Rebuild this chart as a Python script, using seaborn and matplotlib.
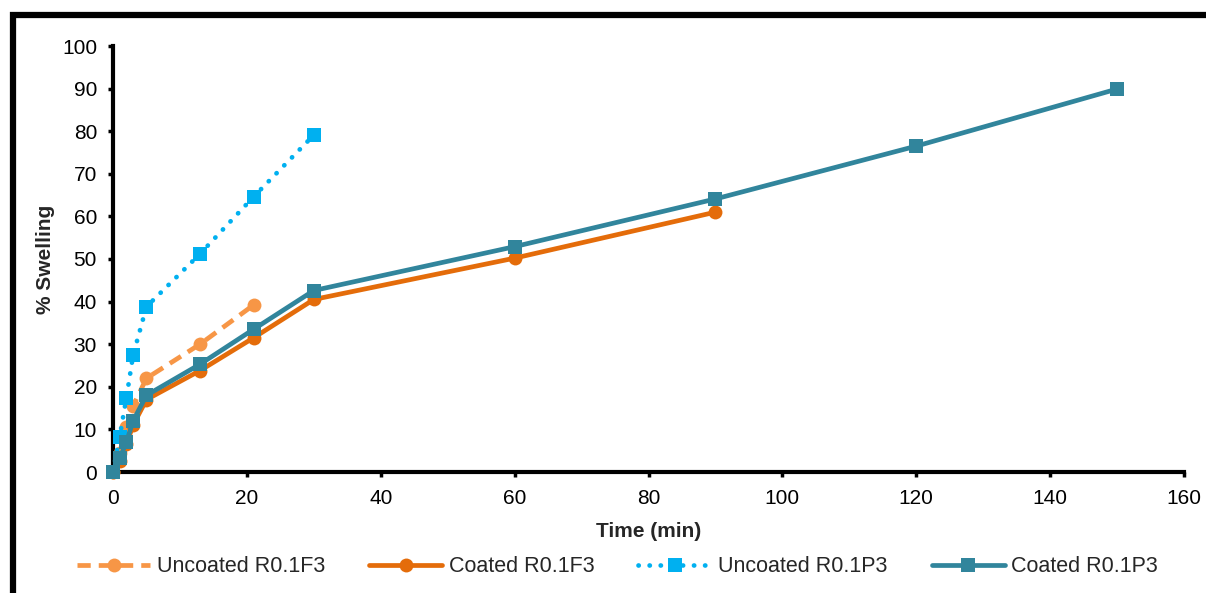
import matplotlib
matplotlib.use("Agg")
import matplotlib.pyplot as plt
from matplotlib.patches import Rectangle
import seaborn as sns
import pandas as pd

# ---- data ----
t_unc_f3 = [0, 1, 2, 3, 5, 13, 21]
unc_f3 = [0, 4.5, 10.5, 15.5, 22, 30, 39.2]

t_coat_f3 = [0, 1, 2, 3, 5, 13, 21, 30, 60, 90]
coat_f3 = [0, 2.5, 6.5, 11, 17, 23.8, 31.5, 40.5, 50.2, 61.0]

t_unc_p3 = [0, 1, 2, 3, 5, 13, 21, 30]
unc_p3 = [0, 8.3, 17.4, 27.4, 38.8, 51.2, 64.6, 79.1]

t_coat_p3 = [0, 1, 2, 3, 5, 13, 21, 30, 60, 90, 120, 150]
coat_p3 = [0, 3.2, 7.0, 12.0, 18.0, 25.3, 33.5, 42.6, 52.9, 64.1, 76.5, 89.9]

labels = ["Uncoated R0.1F3", "Coated R0.1F3", "Uncoated R0.1P3", "Coated R0.1P3"]
xticks = [0, 20, 40, 60, 80, 100, 120, 140, 160]
yticks = [0, 10, 20, 30, 40, 50, 60, 70, 80, 90, 100]

sns.set_theme(style="white")
plt.rcParams["font.family"] = ["Liberation Sans", "DejaVu Sans"]

fig = plt.figure(figsize=(12.06, 5.93), dpi=100)
ax = fig.add_axes([113 / 1206, 1 - 472 / 593, (1184 - 113) / 1206, (472 - 46) / 593])

series = [
    (t_unc_f3, unc_f3, labels[0], "#F79646", "o", (0, (2.8, 1.7)), "butt", 10),
    (t_coat_f3, coat_f3, labels[1], "#E46C0A", "o", "-", "round", 10),
    (t_unc_p3, unc_p3, labels[2], "#00B0F0", "s", (0, (0.05, 2.3)), "round", 10),
    (t_coat_p3, coat_p3, labels[3], "#31859C", "s", "-", "round", 10),
]
for t, v, lab, col, mk, ls, cap, ms in series:
    df = pd.DataFrame({"t": t, "v": v})
    sns.lineplot(data=df, x="t", y="v", ax=ax, color=col, marker=mk,
                 linestyle=ls, linewidth=3.4, markersize=ms, markeredgewidth=0,
                 label=lab, sort=False, legend=False, clip_on=False)
    ax.lines[-1].set_dash_capstyle(cap)
    ax.lines[-1].set_solid_capstyle("round")

ax.set_xlim(0, 160)
ax.set_ylim(0, 100)
ax.set_xticks(xticks)
ax.set_yticks(yticks)
ax.tick_params(axis="both", direction="out", length=3.5, width=2.5,
               labelsize=15, colors="black", pad=9, bottom=True, left=True)
ax.tick_params(axis="y", pad=8)
for side in ["top", "right"]:
    ax.spines[side].set_visible(False)
for side in ["left", "bottom"]:
    ax.spines[side].set_linewidth(3)
    ax.spines[side].set_color("black")
    ax.spines[side].set_zorder(0.5)
ax.set_xlabel("Time (min)", fontsize=15, fontweight="bold", labelpad=10)
ax.set_ylabel("% Swelling", fontsize=15, fontweight="bold", labelpad=5)
ax.grid(False)

handles, labs = ax.get_legend_handles_labels()
fig.legend(handles, labs, loc="center", bbox_to_anchor=(0.512, 26 / 593), ncol=4,
           frameon=False, fontsize=15.5, handlelength=3.4, handletextpad=0.3,
           columnspacing=2.05)

fig.patches.append(Rectangle((13 / 1206, -0.2), 1.2, 1 - 15 / 593 + 0.2,
                             transform=fig.transFigure, fill=False,
                             edgecolor="black", linewidth=4.5, zorder=10))

fig.savefig("out.png", dpi=100, facecolor="white")
